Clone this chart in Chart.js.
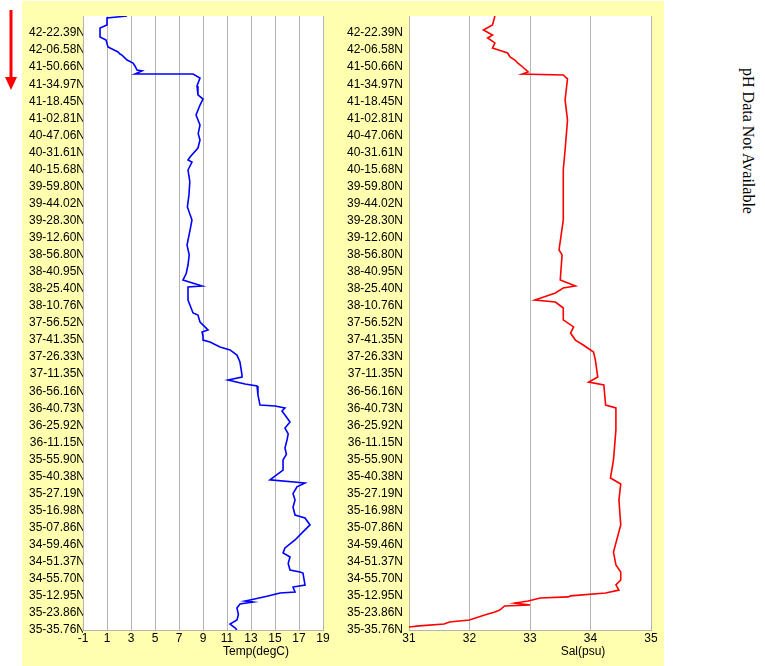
<!DOCTYPE html>
<html>
<head>
<meta charset="utf-8">
<script src="https://cdn.jsdelivr.net/npm/chart.js@4.4.0/dist/chart.umd.min.js"></script>
<style>
  body { margin: 0; background: #fff; width: 765px; height: 666px; position: relative; overflow: hidden; }
  .panel { position: absolute; top: 1px; height: 665px; background: #ffffaf; }
  #tempPanel { left: 22px; width: 313px; }
  #salPanel { left: 335px; width: 329px; }
  #ph { position: absolute; left: 748px; top: 141px; transform: translate(-50%, -50%) rotate(90deg);
        font: 16px "Liberation Serif", serif; white-space: nowrap; color: #000; }
  #arrow { position: absolute; left: 0; top: 0; }
</style>
</head>
<body>
<svg id="arrow" width="22" height="100">
  <line x1="11" y1="10" x2="11" y2="80" stroke="#ff0000" stroke-width="3"/>
  <polygon points="5,77 17,77 11,90" fill="#ff0000"/>
</svg>
<div class="panel" id="tempPanel"><canvas id="tempChart" width="313" height="665"></canvas></div>
<div class="panel" id="salPanel"><canvas id="salChart" width="329" height="665"></canvas></div>
<div id="ph">pH Data Not Available</div>
<script>
// latitude labels along the track, top to bottom
const latLabels = [
  "42-22.39N", "42-06.58N", "41-50.66N", "41-34.97N", "41-18.45N", "41-02.81N",
  "40-47.06N", "40-31.61N", "40-15.68N", "39-59.80N", "39-44.02N", "39-28.30N",
  "39-12.60N", "38-56.80N", "38-40.95N", "38-25.40N", "38-10.76N", "37-56.52N",
  "37-41.35N", "37-26.33N", "37-11.35N", "36-56.16N", "36-40.73N", "36-25.92N",
  "36-11.15N", "35-55.90N", "35-40.38N", "35-27.19N", "35-16.98N", "35-07.86N",
  "34-59.46N", "34-51.37N", "34-55.70N", "35-12.95N", "35-23.86N", "35-35.76N"
];

// position along track (label index units, 0 = top) and temperature
const tempPos = [0, 0.12, 0.53, 0.70, 1.23, 1.41, 1.82, 2.11, 2.23, 2.29, 2.58, 2.76, 2.93, 3.17, 3.22, 3.40,
  3.40, 3.64, 4.10, 4.63, 4.87, 5.22, 5.80, 6.39, 6.90, 7.27, 7.74, 8.27, 8.44, 8.56, 9.03, 9.70, 10.49, 11.20, 11.96, 12.55,
  13.43, 14.00, 14.60, 15.10, 15.48, 15.83, 15.89, 16.65, 17.41, 17.53, 17.94, 18.41, 18.53, 18.76, 19.00, 19.11,
  19.41, 19.58, 19.88, 20.29, 21.05, 21.17, 21.34, 21.58, 21.69, 22.22, 22.81, 22.87, 22.98, 23.16,
  23.39, 23.80, 24.16, 24.50, 24.86, 25.33, 25.70, 26.03, 26.62, 27.20, 27.38, 27.61, 28.00, 28.38, 28.80, 29.26, 29.43, 29.84,
  30.25, 30.72, 31.19, 31.48, 31.72, 32.10, 32.48, 32.60, 32.66, 33.36, 33.48, 33.77, 33.83, 34.01, 34.24,
  34.30, 34.36, 34.48, 34.71, 35.10, 35.41, 35.65, 35.88, 36.00];
const tempVal = [2.67, 1.00, 1.00, 0.42, 0.42, 0.92, 1.08, 1.92, 2.08, 2.25, 2.67, 3.17, 3.33, 3.50, 3.92, 3.33,
  8.17, 8.75, 8.50, 8.58, 9.00, 8.75, 8.42, 8.75, 8.60, 8.75, 8.58, 7.92, 7.75, 8.08, 7.75, 7.90, 7.83, 7.70, 8.08, 7.92,
  7.67, 7.85, 7.75, 7.60, 7.33, 8.92, 7.75, 7.75, 8.17, 8.58, 8.75, 9.42, 8.92, 9.00, 9.00, 9.58,
  10.42, 11.25, 11.83, 12.08, 12.25, 12.25, 11.08, 12.50, 13.50, 13.58, 13.75, 15.00, 15.83, 15.58,
  15.83, 16.25, 15.83, 16.10, 16.00, 15.83, 15.95, 15.67, 15.67, 14.58, 17.50, 16.83, 16.50, 16.67, 16.50, 16.67, 17.50, 17.92,
  17.33, 16.67, 15.83, 15.67, 16.25, 16.10, 16.25, 17.08, 17.33, 17.50, 16.50, 16.67, 15.42, 14.42, 12.92,
  12.50, 13.17, 12.08, 11.83, 11.95, 11.83, 11.25, 11.67, 11.83];

// position along track and salinity
const salPos = [0, 0.53, 0.82, 1.11, 1.29, 1.58, 1.88, 2.05, 2.17, 2.40, 2.58, 2.76, 2.99, 3.28, 3.40,
  3.46, 3.69, 4.92, 6.10, 7.86, 9.03, 11.96, 13.72, 14.01, 15.48, 15.83, 15.95, 16.24, 16.65, 16.77,
  17.12, 17.82, 18.23, 18.59, 19.00, 19.29, 19.70, 20.17, 21.17, 21.46, 21.63, 22.81, 22.98, 24.27,
  26.03, 27.09, 27.44, 28.38, 29.84, 31.43, 32.19, 32.60, 33.07, 33.36, 33.66, 33.83, 34.00, 34.06,
  34.12, 34.30, 34.42, 34.53, 34.59, 34.83, 34.94, 35.12, 35.41, 35.53, 35.65, 35.76, 35.82];
const salVal = [32.42, 32.38, 32.23, 32.38, 32.30, 32.42, 32.38, 32.53, 32.63, 32.67, 32.75, 32.80, 32.88, 32.97, 32.87,
  33.55, 33.62, 33.58, 33.62, 33.58, 33.55, 33.55, 33.48, 33.53, 33.50, 33.75, 33.55, 33.42, 33.08, 33.42,
  33.55, 33.55, 33.72, 33.67, 33.75, 33.88, 34.05, 34.08, 34.12, 33.97, 34.22, 34.25, 34.42, 34.42,
  34.38, 34.33, 34.50, 34.47, 34.50, 34.38, 34.42, 34.50, 34.50, 34.42, 34.47, 34.25, 33.67, 33.63,
  33.17, 32.97, 32.75, 33.00, 32.58, 32.50, 32.42, 32.25, 32.00, 31.67, 31.58, 31.17, 31.00];

const gridGray = "#b4b4b4";
const tickFont = { family: "'Liberation Sans', Arial, sans-serif", size: 12 };

// white plot area + offset axis title like the original
const plotBg = {
  id: "plotBg",
  beforeDraw(chart) {
    const a = chart.chartArea, ctx = chart.ctx;
    ctx.save();
    ctx.fillStyle = "#fff";
    ctx.fillRect(a.left, a.top, a.right - a.left, a.bottom - a.top);
    ctx.restore();
  },
  afterDraw(chart, args, opts) {
    const a = chart.chartArea, ctx = chart.ctx;
    ctx.save();
    ctx.font = "12px 'Liberation Sans', Arial, sans-serif";
    ctx.fillStyle = "#000";
    ctx.textAlign = "center";
    ctx.textBaseline = "middle";
    ctx.fillText(opts.text, (a.left + a.right) / 2 + 53, 651);
    ctx.restore();
  }
};

function makeProfile(canvasId, pos, vals, color, xMin, xMax, xStep, yWidth, rightPad, title, labelPad) {
  const ctx = document.getElementById(canvasId).getContext("2d");
  return new Chart(ctx, {
    type: "scatter",
    data: {
      datasets: [{
        data: pos.map((p, i) => ({ x: vals[i], y: p })),
        showLine: true,
        borderColor: color,
        borderWidth: 1.6,
        pointRadius: 0,
        tension: 0,
      }],
    },
    options: {
      responsive: false,
      animation: false,
      events: [],
      layout: { padding: { left: 0, right: rightPad, top: 15, bottom: 0 } },
      plugins: {
        legend: { display: false },
        tooltip: { enabled: false },
        plotBg: { text: title },
      },
      scales: {
        x: {
          type: "linear",
          min: xMin,
          max: xMax,
          grid: { color: gridGray, drawTicks: false },
          border: { color: gridGray },
          ticks: { stepSize: xStep, color: "#000", font: tickFont, padding: 1 },
          afterFit: (scale) => { scale.height = 36; },
        },
        y: {
          type: "linear",
          reverse: true,
          min: 0,
          max: latLabels.length,
          grid: { display: false, drawTicks: false },
          border: { display: true, color: gridGray },
          ticks: {
            stepSize: 1,
            autoSkip: false,
            color: "#000",
            font: tickFont,
            padding: labelPad,
            callback: (v) => (v >= 1 ? latLabels[v - 1] : ""),
          },
          afterFit: (scale) => { scale.width = yWidth; },
        },
      },
    },
    plugins: [plotBg],
  });
}

makeProfile("tempChart", tempPos, tempVal, "#0000ff", -1, 19, 2, 61, 12, "Temp(degC)", -2);
makeProfile("salChart", salPos, salVal, "#ff0000", 31, 35, 1, 74, 13, "Sal(psu)", 6);
</script>
</body>
</html>
